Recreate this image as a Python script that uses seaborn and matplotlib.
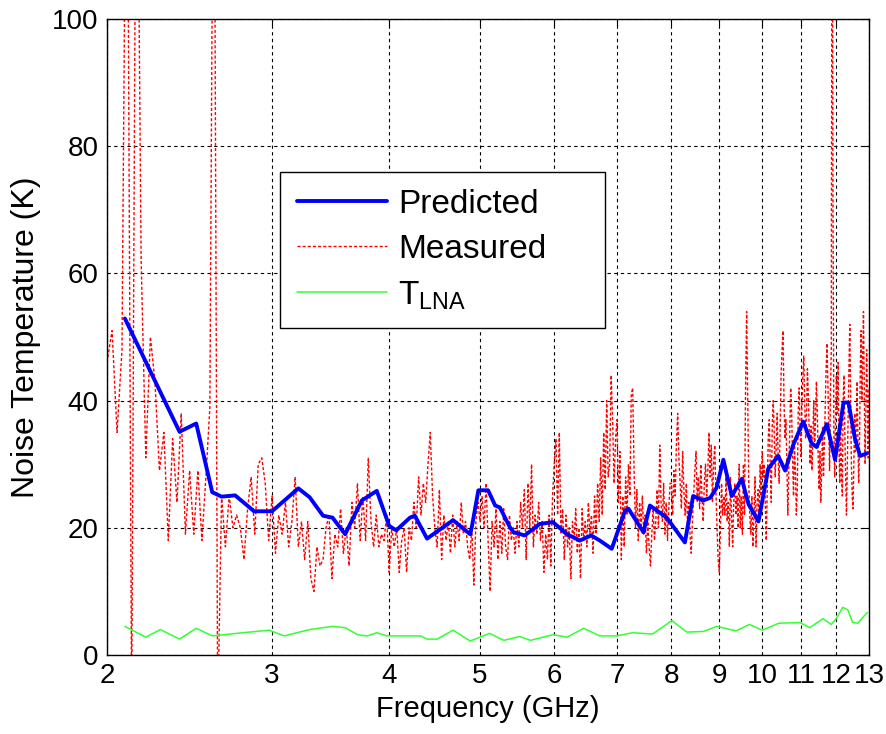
# %%
import numpy as np
import pandas as pd
import seaborn as sns
import matplotlib
matplotlib.use('Agg')
import matplotlib.pyplot as plt

# predicted noise temperature (GHz, K)
pred_freq = [2.09, 2.39, 2.49, 2.59, 2.65, 2.74, 2.87, 3.00, 3.20, 3.29, 3.40, 3.48, 3.59, 3.74,
             3.88, 4.00, 4.07, 4.21, 4.26, 4.39, 4.68, 4.88, 4.90, 4.98, 5.10, 5.19, 5.25, 5.38,
             5.43, 5.58, 5.79, 5.98, 6.19, 6.39, 6.57, 6.71, 6.91, 7.14, 7.20, 7.47, 7.59, 7.91,
             8.00, 8.27, 8.44, 8.65, 8.80, 8.94, 9.09, 9.28, 9.51, 9.67, 9.91, 10.15, 10.40,
             10.58, 10.79, 11.06, 11.29, 11.43, 11.72, 11.96, 12.21, 12.36, 12.56, 12.72, 12.93]
pred_temp = [52.9, 35.1, 36.4, 25.6, 24.9, 25.1, 22.6, 22.6, 26.2, 24.8, 21.9, 21.6, 19.0, 24.3,
             25.8, 20.3, 19.6, 21.6, 21.9, 18.3, 21.2, 19.0, 20.1, 25.9, 25.9, 23.5, 23.2, 20.1,
             19.3, 18.8, 20.6, 20.9, 19.0, 18.0, 18.8, 18.0, 16.7, 22.7, 23.0, 19.3, 23.5, 21.6,
             20.6, 17.7, 25.0, 24.3, 24.7, 26.3, 30.7, 25.0, 27.7, 23.7, 21.0, 29.3, 31.3,
             29.0, 33.0, 36.7, 33.3, 32.7, 36.3, 30.7, 39.7, 39.7, 34.0, 31.3, 31.7]

# measured sweep, 2 to 13 GHz in 25 MHz steps
meas_start, meas_stop = 2.0, 13.0
meas_temp = [
    46, 51, 35, 48, 150, -10, 150, 62, 31, 50, 43, 29, 35, 18, 34, 24, 38, 19, 29, 19,
    29, 18, 28, 39, 150, -10, 25, 17, 25, 20, 22, 20, 15, 23, 28, 19, 30, 31, 27, 18,
    25, 16, 22, 19, 24, 17, 21, 28, 17, 21, 15, 21, 12, 10, 17, 14, 15, 20, 22, 12,
    19, 17, 23, 16, 20, 14, 24, 20, 27, 18, 25, 18, 31, 21, 17, 22, 17, 19, 18, 22,
    13, 20, 17, 20, 13, 18, 20, 13, 20, 18, 24, 20, 28, 22, 27, 24, 30, 35, 25, 20,
    17, 26, 15, 22, 18, 21, 16, 22, 17, 21, 18, 24, 19, 21, 17, 15, 20, 11, 21, 24,
    21, 25, 20, 27, 18, 10, 21, 17, 23, 15, 21, 16, 23, 17, 15, 22, 18, 20, 16, 21,
    17, 24, 20, 26, 15, 27, 20, 30, 17, 22, 19, 24, 18, 21, 13, 19, 15, 22, 14, 25,
    30, 34, 22, 35, 19, 23, 15, 22, 17, 20, 12, 21, 18, 23, 16, 20, 12, 23, 18, 21,
    17, 24, 19, 22, 16, 25, 19, 27, 21, 31, 22, 35, 26, 40, 28, 30, 44, 37, 27, 34,
    37, 24, 32, 15, 25, 17, 28, 22, 30, 25, 41, 42, 29, 20, 26, 18, 24, 20, 25, 19,
    22, 16, 21, 17, 14, 19, 23, 18, 21, 26, 20, 33, 24, 21, 27, 19, 24, 18, 23, 27,
    27, 22, 29, 25, 33, 38, 31, 27, 23, 32, 26, 22, 27, 20, 24, 19, 16, 21, 25, 29,
    32, 24, 28, 23, 30, 25, 21, 27, 30, 25, 29, 35, 28, 33, 24, 30, 33, 26, 20, 15,
    13, 20, 27, 22, 25, 22, 28, 21, 24, 17, 28, 22, 17, 24, 27, 22, 25, 20, 30, 20,
    25, 19, 30, 22, 42, 54, 40, 27, 22, 19, 25, 17, 22, 28, 17, 24, 26, 21, 30, 25,
    32, 28, 30, 24, 18, 26, 34, 37, 30, 24, 36, 40, 35, 28, 33, 38, 31, 27, 36, 44,
    48, 51, 40, 34, 37, 30, 22, 29, 35, 42, 38, 31, 25, 33, 29, 22, 26, 38, 42, 36,
    31, 39, 44, 47, 40, 34, 38, 45, 41, 35, 30, 36, 29, 34, 40, 33, 37, 43, 38, 31,
    26, 32, 24, 30, 36, 28, 33, 39, 45, 49, 43, 36, 29, 41, 48, 150, 70, 35, 28, 37,
    44, 38, 46, 33, 27, 36, 29, 25, 40, 44, 35, 28, 22, 30, 38, 45, 52, 41, 30, 25,
    23, 30, 38, 32, 36, 43, 34, 27, 33, 45, 51, 40, 47, 54, 42, 30, 38, 48, 41, 31,
    42]
meas_freq = np.linspace(meas_start, meas_stop, len(meas_temp))

# LNA noise temperature
lna_freq = [2.09, 2.20, 2.28, 2.39, 2.49, 2.59, 2.79, 2.98, 3.09, 3.29, 3.48, 3.59, 3.70, 3.79,
            3.88, 3.98, 4.32, 4.39, 4.50, 4.68, 4.88, 5.12, 5.30, 5.51, 5.66, 5.98, 6.19, 6.45,
            6.71, 6.99, 7.27, 7.64, 8.01, 8.31, 8.66, 8.94, 9.38, 9.69, 10.00, 10.42, 10.97,
            11.24, 11.61, 11.85, 11.99, 12.19, 12.34, 12.49, 12.64, 12.95]
lna_temp = [4.5, 2.8, 4.0, 2.5, 4.2, 3.0, 3.5, 3.9, 3.0, 4.0, 4.5, 4.3, 3.2, 3.0,
            3.5, 3.0, 3.0, 2.5, 2.5, 3.9, 2.2, 3.4, 2.3, 2.9, 2.3, 3.2, 2.8, 4.2,
            3.0, 3.0, 3.5, 3.3, 5.4, 3.6, 3.7, 4.5, 3.8, 4.8, 3.9, 5.0, 5.1,
            4.3, 5.7, 4.8, 5.7, 7.5, 7.1, 5.1, 5.0, 6.7]

xticks = [2, 3, 4, 5, 6, 7, 8, 9, 10, 11, 12, 13]
yticks = [0, 20, 40, 60, 80, 100]

pred_df = pd.DataFrame({'freq': pred_freq, 'temp': pred_temp})
meas_df = pd.DataFrame({'freq': meas_freq, 'temp': meas_temp})
lna_df = pd.DataFrame({'freq': lna_freq, 'temp': lna_temp})

# %%
sns.set_style('white')
plt.rcParams['font.family'] = ['Liberation Sans', 'DejaVu Sans']
plt.rcParams['mathtext.fontset'] = 'custom'
plt.rcParams['mathtext.rm'] = 'Liberation Sans'
plt.rcParams['text.color'] = 'black'
plt.rcParams['axes.labelcolor'] = 'black'

fig = plt.figure(figsize=(8.87, 7.34), dpi=100)
ax = fig.add_axes([107/887, 79/734, 762/887, 636/734])

sns.lineplot(data=meas_df, x='freq', y='temp', ax=ax, color='#ff0000', linewidth=1.0,
             linestyle=(0, (2.2, 1.5)), estimator=None, sort=False, zorder=2)
sns.lineplot(data=pred_df, x='freq', y='temp', ax=ax, color='#0000ff', linewidth=2.8,
             estimator=None, sort=False, zorder=3)
sns.lineplot(data=lna_df, x='freq', y='temp', ax=ax, color='#33ff33', linewidth=1.1,
             estimator=None, sort=False, zorder=3)

ax.set_xscale('log')
ax.set_xlim(2, 13)
ax.set_ylim(0, 100)
ax.set_xticks(xticks)
ax.set_xticklabels([str(t) for t in xticks])
ax.minorticks_off()
ax.set_yticks(yticks)
ax.tick_params(direction='in', top=True, right=True, length=5, width=0.8,
               labelsize=20, colors='black', pad=6)
ax.grid(True, color='black', linestyle=(0, (3, 3)), linewidth=0.8)
for s in ax.spines.values():
    s.set_color('black')
    s.set_linewidth(1.0)

ax.set_xlabel('Frequency (GHz)', fontsize=21, labelpad=4)
ax.set_ylabel('Noise Temperature (K)', fontsize=23, labelpad=8)

lines = ax.get_lines()
handles = [lines[1], lines[0], lines[2]]
labels = ['Predicted', 'Measured', r'T$_{\mathregular{LNA}}$']
leg = ax.legend(handles, labels, loc='upper left',
                bbox_to_anchor=(0.227, 0.497, 0.427, 0.262), mode='expand',
                fontsize=24, frameon=True, fancybox=False, edgecolor='black',
                framealpha=1, handlelength=2.7, handletextpad=0.35, borderpad=0.5,
                labelspacing=0.42, borderaxespad=0)
leg.get_frame().set_linewidth(1.0)

plt.savefig('out.png', dpi=100)
